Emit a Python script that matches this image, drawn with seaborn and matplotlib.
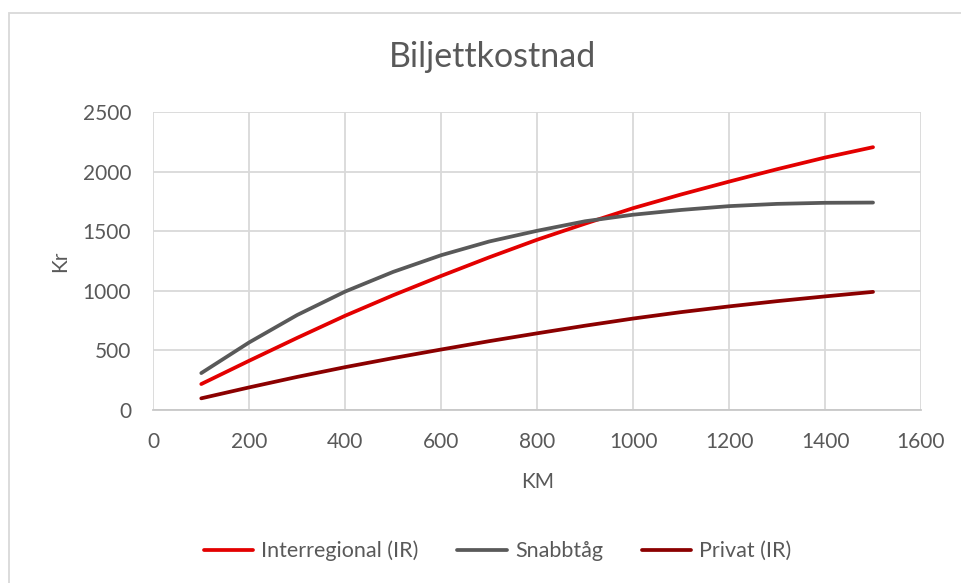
import matplotlib
matplotlib.use("Agg")
import matplotlib.pyplot as plt
from matplotlib.patches import Rectangle
import pandas as pd
import seaborn as sns

# Distance in km and ticket price in kr for each option
km = [100, 200, 300, 400, 500, 600, 700, 800, 900, 1000, 1100, 1200, 1300, 1400, 1500]
interregional = [218, 414, 606, 792, 964, 1126, 1282, 1430, 1565, 1695, 1810, 1918, 2022, 2120, 2207]
snabbtag = [310, 568, 798, 995, 1160, 1300, 1415, 1505, 1585, 1640, 1680, 1712, 1731, 1740, 1742]
privat = [98, 190, 278, 360, 436, 508, 578, 644, 708, 768, 822, 870, 914, 954, 992]

series_names = ["Interregional (IR)", "Snabbtåg", "Privat (IR)"]
series_colors = ["#E30000", "#595959", "#8B0000"]

x_ticks = [0, 200, 400, 600, 800, 1000, 1200, 1400, 1600]
y_ticks = [0, 500, 1000, 1500, 2000, 2500]

df = pd.concat([
    pd.DataFrame({"KM": km, "Kr": vals, "Serie": name})
    for name, vals in zip(series_names, [interregional, snabbtag, privat])
])

sns.set_theme(style="white")
plt.rcParams["font.family"] = ["Lato", "DejaVu Sans"]
text_color = "#595959"

fig = plt.figure(figsize=(9.61, 5.83), dpi=100)
ax = fig.add_axes([153.3 / 961, 1 - 410 / 583, (921 - 153.3) / 961, (410 - 112.3) / 583])

# Outer chart frame
fig.patches.append(Rectangle((8.5 / 961, -0.05), 1.1, 1 - 13 / 583 + 0.05,
                             transform=fig.transFigure, fill=False,
                             edgecolor="#d9d9d9", linewidth=1.3, zorder=0))

sns.lineplot(data=df, x="KM", y="Kr", hue="Serie", hue_order=series_names,
             palette=series_colors, linewidth=2.7, ax=ax, legend=False,
             solid_capstyle="round", solid_joinstyle="round")

ax.set_xlim(0, 1600)
ax.set_ylim(0, 2500)
ax.set_xticks(x_ticks)
ax.set_yticks(y_ticks)
ax.grid(True, color="#d9d9d9", linewidth=1.3)
ax.set_axisbelow(True)
for side in ["top", "right", "left"]:
    ax.spines[side].set_visible(False)
ax.spines["bottom"].set_color("#c8c8c8")
ax.spines["bottom"].set_linewidth(1.3)
ax.tick_params(axis="both", length=0, labelsize=15, labelcolor=text_color)
ax.tick_params(axis="y", pad=16)
ax.tick_params(axis="x", pad=16)

ax.set_xlabel("KM", fontsize=15, color=text_color, labelpad=14)
ax.set_ylabel("Kr", fontsize=15, color=text_color, labelpad=9)
fig.text(493 / 961, 1 - 57 / 583, "Biljettkostnad", ha="center", va="center",
         fontsize=24.5, color=text_color)

handles = [plt.Line2D([], [], color=c, linewidth=2.7) for c in series_colors]
fig.legend(handles, series_names, loc="center", bbox_to_anchor=(497.5 / 961, 1 - 551 / 583),
           ncol=3, frameon=False, fontsize=15.5, labelcolor=text_color,
           handlelength=2.3, handletextpad=0.37, columnspacing=1.8)

fig.savefig("out.png", dpi=100, facecolor="white")
